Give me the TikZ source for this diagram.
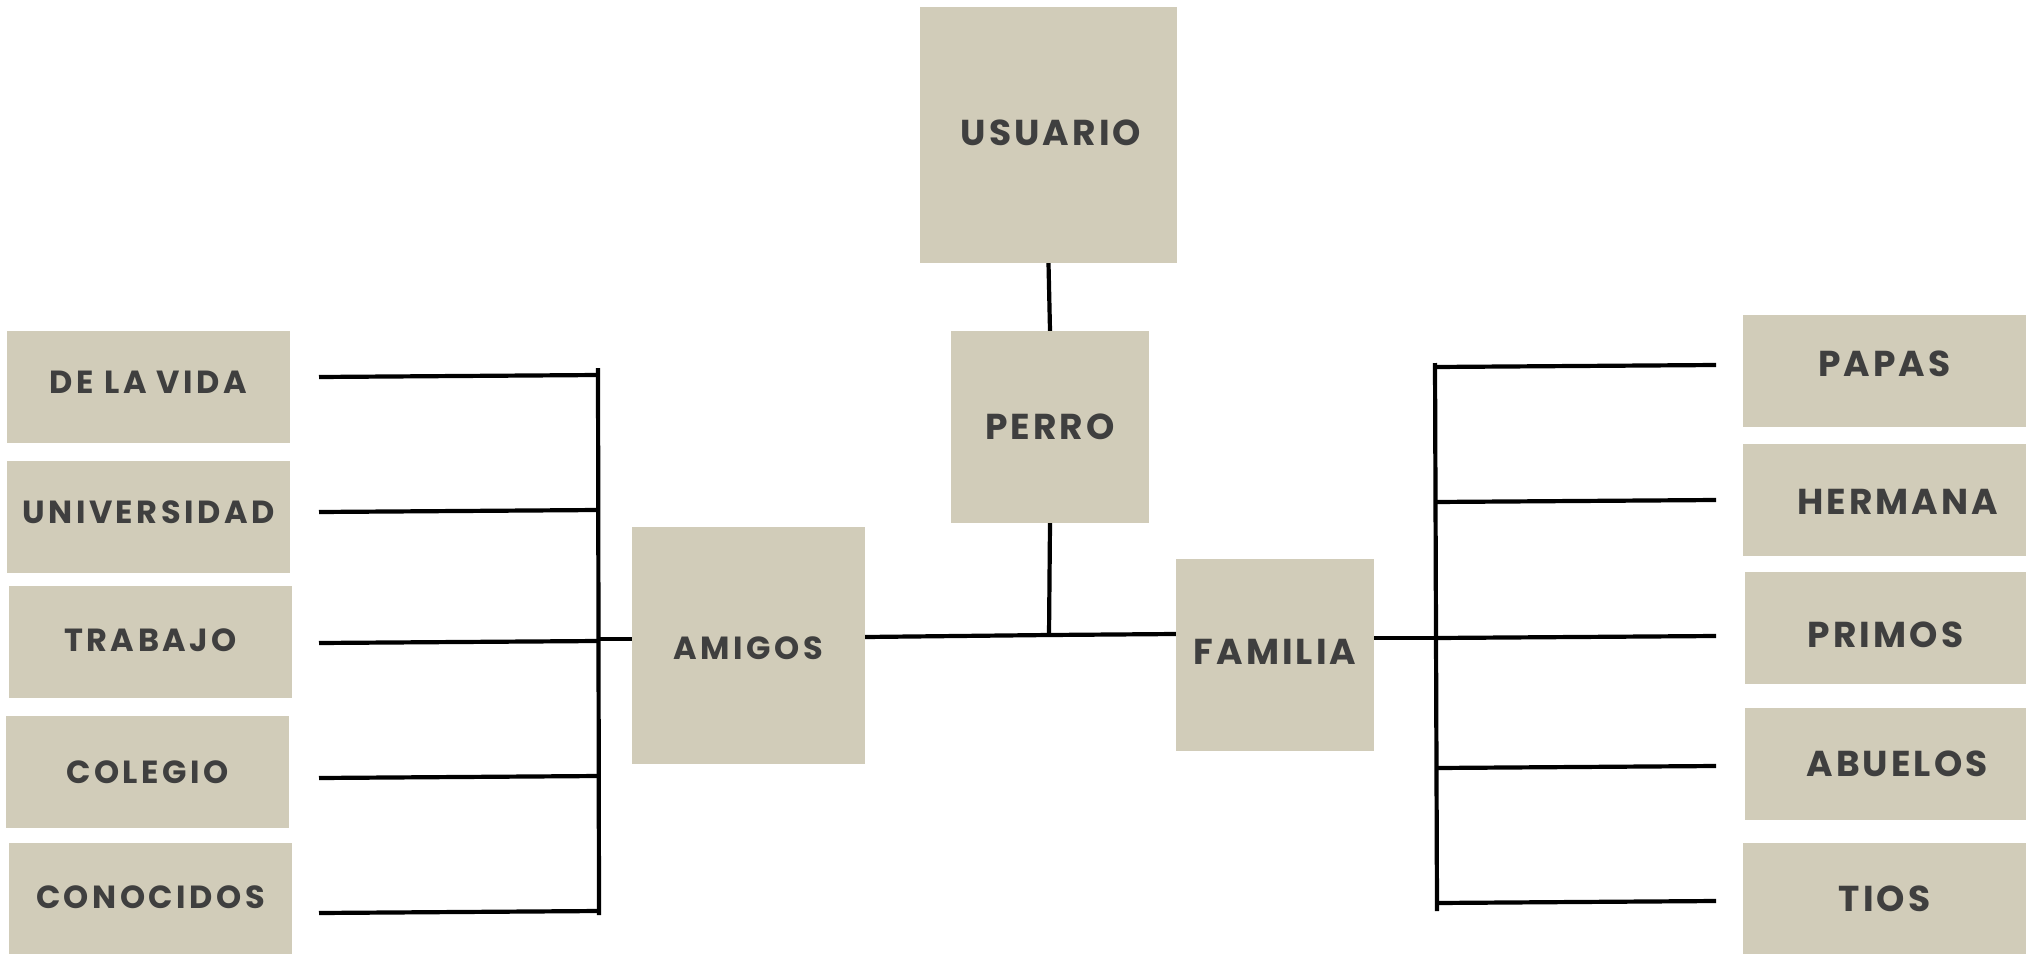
\documentclass[tikz,border=0pt]{standalone}
\usepackage{fontspec}
\setmainfont{Poppins}[LetterSpace=11]
\definecolor{boxfill}{HTML}{D1CCB9}
\definecolor{boxtext}{HTML}{3F3F3F}
\newcommand\tx[3]{\hspace*{#1}\raisebox{#2}[\height][\depth]{#3}\hspace*{-#1}}
\begin{document}
\begin{tikzpicture}[x=1pt,y=-1pt,
  box/.style={fill=boxfill,text=boxtext,inner sep=0pt,font=\bfseries\fontsize{36}{40}\selectfont\addfontfeature{LetterSpace=8.5}},
  small/.style={box,minimum width=283pt,minimum height=112pt,font=\bfseries\fontsize{32}{36}\selectfont},
  side/.style={box,minimum width=283pt,minimum height=112pt},
  link/.style={draw=black,line width=4.2pt}]
\useasboundingbox[fill=white] (0,0) rectangle (2026,953);
% center column
\node[box,minimum width=257pt,minimum height=256pt] (usu) at (1048.5,135) {\tx{2.5pt}{2pt}{USUARIO}};
\node[box,minimum width=198pt,minimum height=192pt] (per) at (1050,427) {PERRO};
\node[box,minimum width=233pt,minimum height=237pt,font=\bfseries\fontsize{32}{36}\selectfont] (ami) at (748.5,645) {\tx{0pt}{-3pt}{AMIGOS}};
\node[box,minimum width=198pt,minimum height=192pt] (fam) at (1275,655) {\tx{0pt}{3pt}{FAMILIA}};
% left
\node[small] (dlv) at (148.5,387) {\tx{0pt}{5pt}{DE LA VIDA}};
\node[small] (uni) at (148.5,517) {\tx{0pt}{5pt}{UNIVERSIDAD}};
\node[small] (tra) at (150.5,642) {\tx{0pt}{1.5pt}{TRABAJO}};
\node[small] (col) at (147.5,772) {COLEGIO};
\node[small] (con) at (150.5,899) {\tx{0pt}{2pt}{CONOCIDOS}};
% right
\node[side] (pap) at (1884.5,371) {\tx{0pt}{7.5pt}{PAPAS}};
\node[side] (her) at (1884.5,500) {\tx{13pt}{-2pt}{HERMANA}};
\node[side] (pri) at (1886.5,628) {\tx{-1pt}{-7pt}{PRIMOS}};
\node[side] (abu) at (1886.5,764) {\tx{10.5pt}{0pt}{ABUELOS}};
\node[side] (tio) at (1884.5,899) {TIOS};
% coordinates
\coordinate (cj) at (1049,635);
\coordinate (lt) at (598,368);
\coordinate (lb) at (599,915);
\coordinate (lj) at (598,639);
\coordinate (l1) at (319,377);
\coordinate (l1e) at (598,375);
\coordinate (l2) at (319,512);
\coordinate (l2e) at (598,510);
\coordinate (l3) at (319,643);
\coordinate (l3e) at (598,641);
\coordinate (l4) at (319,778);
\coordinate (l4e) at (599,776);
\coordinate (l5) at (319,913);
\coordinate (l5e) at (599,911);
\coordinate (rt) at (1435,363);
\coordinate (rb) at (1437,911);
\coordinate (rj) at (1436,638);
\coordinate (r1) at (1716,365);
\coordinate (r1e) at (1435,367);
\coordinate (r2) at (1716,500);
\coordinate (r2e) at (1435,502);
\coordinate (r3) at (1716,636);
\coordinate (r3e) at (1436,638);
\coordinate (r4) at (1716,766);
\coordinate (r4e) at (1437,768);
\coordinate (r5) at (1716,901);
\coordinate (r5e) at (1437,903);
% connectors
\draw[link] (usu.south) -- (per.north);
\draw[link] (per.south) -- (cj);
\draw[link] (ami.east |- 0,637) -- (cj) -- (fam.west |- 0,634);
\draw[link] (lt) -- (lb);
\draw[link] (lj) -- (ami.west |- lj);
\draw[link] (l1) -- (l1e);
\draw[link] (l2) -- (l2e);
\draw[link] (l3) -- (l3e);
\draw[link] (l4) -- (l4e);
\draw[link] (l5) -- (l5e);
\draw[link] (rt) -- (rb);
\draw[link] (fam.east |- rj) -- (rj);
\draw[link] (r1e) -- (r1);
\draw[link] (r2e) -- (r2);
\draw[link] (r3e) -- (r3);
\draw[link] (r4e) -- (r4);
\draw[link] (r5e) -- (r5);
\end{tikzpicture}
\end{document}
